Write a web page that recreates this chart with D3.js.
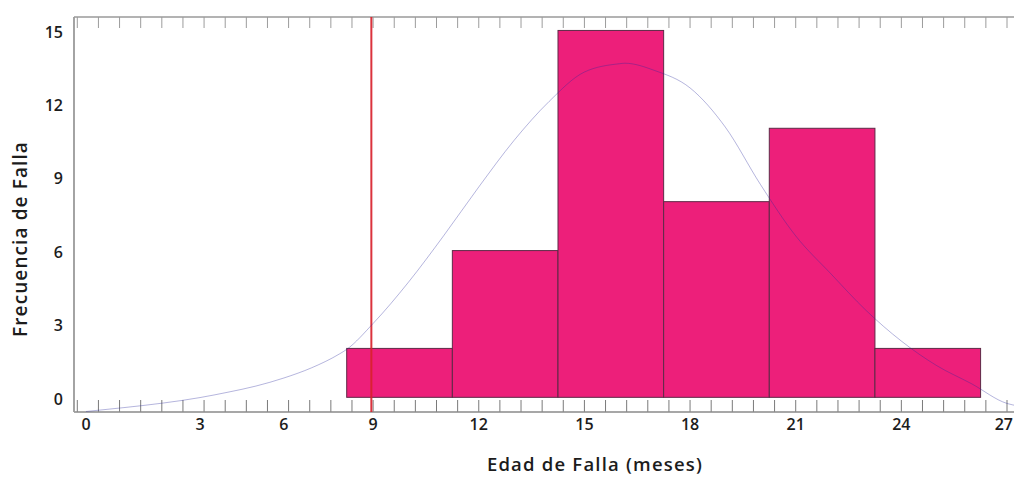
<!DOCTYPE html>
<html><head><meta charset="utf-8">
<script src="https://cdn.jsdelivr.net/npm/d3@7"></script>
<style>
html,body{margin:0;padding:0;background:#fff;}
svg{display:block;}
text{font-family:"Open Sans", "DejaVu Sans", sans-serif;}
</style></head><body>
<svg id="chart" width="1014" height="478"></svg>
<script>
// ---- data ----
const binStarts   = [8.25, 11.25, 14.25, 17.25, 20.25, 23.25];
const binWidth    = 3;
const frequencies = [2, 6, 15, 8, 11, 2];
const xTickValues = [0, 3, 6, 9, 12, 15, 18, 21, 24, 27];
const yTickValues = [0, 3, 6, 9, 12, 15];
const referenceLine = 8.95;
// fitted curve
const curveX = [0, 1, 2, 3, 4, 5, 6, 7, 8, 8.25, 9, 10, 11, 12, 13, 14, 15, 16, 16.15, 17, 18, 19, 20, 21, 22, 23, 24, 25, 26, 27, 27.3];
const curveY = [-0.58, -0.42, -0.24, -0.01, 0.21, 0.46, 0.79, 1.21, 1.78, 1.96, 3.02, 4.7, 6.6, 8.6, 10.5, 12.1, 13.3, 13.64, 13.66, 13.36, 12.65, 11.05, 8.7, 6.6, 5.05, 3.55, 2.3, 1.3, 0.55, -0.25, -0.35];
const xTitle = "Edad de Falla (meses)";
const yTitle = "Frecuencia de Falla";

// ---- layout ----
const W = 1014, H = 478;
const plot = {left: 74, top: 17, right: 1016, bottom: 412};

const svg = d3.select("#chart");

// the reference's horizontal axis is not uniform on its left part
const x = d3.scaleLinear()
  .domain([0, 3, 8.25, 27])
  .range([86, 200, 346.7, 1007]);
// uniform part of the axis, used for the frame's minor tick marks
const xUniform = d3.scaleLinear()
  .domain(x.domain().slice(-2))
  .range(x.range().slice(-2));
const y = d3.scaleLinear()
  .domain([-0.6, 15.55])
  .range([plot.bottom, plot.top]);

svg.append("defs").append("clipPath").attr("id", "clip")
  .append("rect")
  .attr("x", plot.left).attr("y", plot.top)
  .attr("width", plot.right - plot.left).attr("height", plot.bottom - plot.top);

const bins = binStarts.map((s, i) => ({x0: s, x1: s + binWidth, f: frequencies[i]}));

// bars
svg.append("g").attr("clip-path", "url(#clip)")
  .selectAll("rect").data(bins).join("rect")
  .attr("x", d => x(d.x0))
  .attr("width", d => x(d.x1) - x(d.x0))
  .attr("y", d => y(d.f))
  .attr("height", d => y(0) - y(d.f))
  .attr("fill", "#ED1F7A")
  .attr("stroke", "#5e2a47")
  .attr("stroke-width", 1);

// minor ticks (top and bottom)
const tickVals = d3.range(-60, 60).map(k => k * 0.6)
  .filter(v => xUniform(v) > plot.left + 3 && xUniform(v) < W);
const tg = svg.append("g");
tg.selectAll("line.bt").data(tickVals).join("line").attr("class", "bt")
  .attr("x1", d => xUniform(d)).attr("x2", d => xUniform(d))
  .attr("y1", plot.bottom).attr("y2", plot.bottom - 12)
  .attr("stroke", "#7a7a7a").attr("stroke-width", 1);
tg.selectAll("line.tt").data(tickVals).join("line").attr("class", "tt")
  .attr("x1", d => xUniform(d)).attr("x2", d => xUniform(d))
  .attr("y1", plot.top).attr("y2", plot.top + 11)
  .attr("stroke", "#9c9c9c").attr("stroke-width", 1);

// frame
const fg = svg.append("g").attr("fill", "none");
fg.append("line").attr("x1", plot.left).attr("x2", plot.right)
  .attr("y1", plot.top).attr("y2", plot.top)
  .attr("stroke", "#9a9a9a").attr("stroke-width", 1.6);
fg.append("line").attr("x1", plot.left).attr("x2", plot.right)
  .attr("y1", plot.bottom).attr("y2", plot.bottom)
  .attr("stroke", "#8a8a8a").attr("stroke-width", 1.6);
fg.append("line").attr("x1", plot.left).attr("x2", plot.left)
  .attr("y1", plot.top).attr("y2", plot.bottom)
  .attr("stroke", "#9a9a9a").attr("stroke-width", 1.8);

// reference line
svg.append("line")
  .attr("x1", x(referenceLine)).attr("x2", x(referenceLine))
  .attr("y1", plot.top).attr("y2", plot.bottom)
  .attr("stroke", "#d8222c").attr("stroke-opacity", 0.92).attr("stroke-width", 2);

// fitted curve
const line = d3.line()
  .x(d => x(d[0])).y(d => y(d[1]))
  .curve(d3.curveMonotoneX);
svg.append("path").attr("clip-path", "url(#clip)")
  .datum(curveX.map((v, i) => [v, curveY[i]]))
  .attr("d", line)
  .attr("fill", "none")
  .attr("stroke", "#25259a")
  .attr("stroke-opacity", 0.34)
  .attr("stroke-width", 1);

// tick labels
const xl = svg.append("g").selectAll("text").data(xTickValues).join("text")
  .attr("x", d => x(d)).attr("y", 429.5)
  .attr("text-anchor", "middle")
  .attr("font-size", 16).attr("font-weight", 600).attr("fill", "#1c1c1c")
  .text(d => d);
// keep the last label inside the picture
xl.each(function() {
  const b = this.getBBox();
  const over = b.x + b.width - (W - 1);
  if (over > 0) d3.select(this).attr("x", +d3.select(this).attr("x") - over);
});
svg.append("g").selectAll("text").data(yTickValues).join("text")
  .attr("x", 63).attr("y", d => y(d))
  .attr("dy", "0.45em")
  .attr("text-anchor", "end")
  .attr("font-size", 16).attr("font-weight", 600).attr("fill", "#1c1c1c")
  .text(d => d);

// axis titles
svg.append("text")
  .attr("x", 595).attr("y", 471)
  .attr("text-anchor", "middle")
  .attr("font-size", 18.5).attr("font-weight", 600).attr("fill", "#1c1c1c")
  .attr("letter-spacing", 1.2)
  .text(xTitle);
svg.append("text")
  .attr("transform", "translate(27,239) rotate(-90)")
  .attr("text-anchor", "middle")
  .attr("font-size", 19).attr("font-weight", 600).attr("fill", "#1c1c1c")
  .attr("letter-spacing", 1.1)
  .text(yTitle);
</script>
</body></html>
